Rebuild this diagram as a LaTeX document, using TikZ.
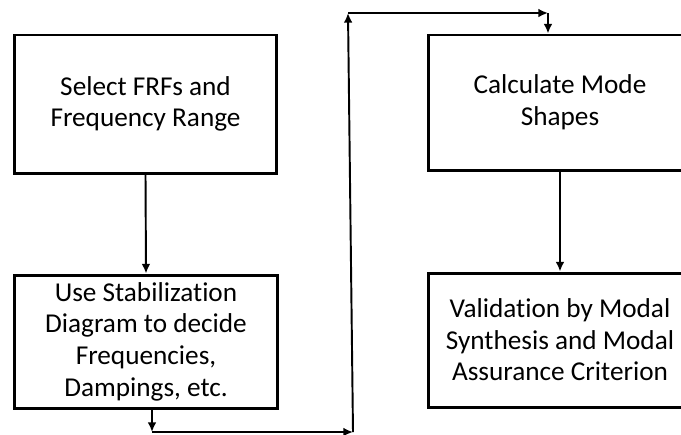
\documentclass[tikz,border=0pt]{standalone}
\usepackage{fontspec}
\setmainfont[Ligatures=NoCommon]{Carlito}
\usetikzlibrary{shapes.geometric,arrows.meta}

\begin{document}
\begin{tikzpicture}[box/.style={rectangle,draw=black,line width=1.7pt,align=center,inner sep=1pt,minimum width=5.25cm,minimum height=2.7cm,font=\fontsize{15.5}{18}\selectfont},
flow/.style={black,line width=1.1pt,-{Latex[length=5.5pt,width=5pt]}}]
\useasboundingbox (0,0) rectangle (13.62,-8.68);
\path (2.91,-2.08) node(sel)[box,minimum height=2.76cm]{Select FRFs and\\ Frequency Range}
(2.92,-6.83) node(stab)[box,minimum height=2.66cm]{Use Stabilization\\ Diagram to decide\\ Frequencies,\\ Dampings, etc.}
(11.2,-2.05) node(modes)[box]{Calculate Mode\\ Shapes}
(11.2,-6.8) node(valid)[box,minimum height=2.68cm]{Validation by Modal\\ Synthesis and Modal\\ Assurance Criterion};
\coordinate (c1) at (3.04,-8.64);
\coordinate (c2) at (7.06,-8.64);
\coordinate (c3) at (6.96,-0.26);
\coordinate (c4) at (10.96,-0.26);
\draw[flow](sel.south)--(stab.north);
\draw[flow](stab.south -| c1)--(c1);
\draw[flow](c1)--(c2);
\draw[flow](c2)--(c3);
\draw[flow](c3)--(c4);
\draw[flow](c4)--(modes.north -| c4);
\draw[flow](modes.south)--(valid.north);

\end{tikzpicture}
\end{document}
